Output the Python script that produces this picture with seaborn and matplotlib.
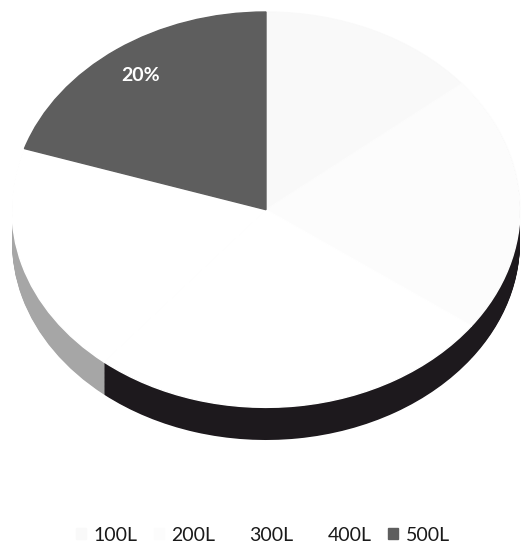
import matplotlib
matplotlib.use("Agg")
import matplotlib.pyplot as plt
import seaborn as sns
import pandas as pd

# ---- data ----
categories = ["100L", "200L", "300L", "400L", "500L"]
shares = [14, 21, 26, 19, 20]          # percent
top_colors = ["#f9f9f9", "#fcfcfc", "#ffffff", "#ffffff", "#5e5e5e"]
side_colors = ["#1d191d", "#1d191d", "#1d191d", "#a6a6a6", "#1d191d"]
shown_label = "500L"

df = pd.DataFrame({"category": categories, "share": shares})

sns.set_theme(style="white")
plt.rcParams["font.family"] = ["Lato", "DejaVu Sans"]

W, H = 526, 545
fig = plt.figure(figsize=(W / 100, H / 100), dpi=100)
fig.patch.set_facecolor("white")

# pie axes in pixel terms
left_px, right_px = 12, 520
top_px, bottom_px = 12, 440
ax = fig.add_axes([left_px / W, 1 - bottom_px / H,
                   (right_px - left_px) / W, (bottom_px - top_px) / H])

depth = 0.165       # thickness of the 3-D rim, in radius units
n_layers = 40

# extruded side (drawn from deepest layer upward)
for i in range(n_layers, 0, -1):
    off = -depth * i / n_layers
    ax.pie(df["share"], colors=side_colors, startangle=90, counterclock=False,
           center=(0, off), radius=1,
           wedgeprops=dict(linewidth=0, edgecolor="none", antialiased=True))

# top surface
wedges, texts, autotexts = ax.pie(
    df["share"], colors=top_colors, startangle=90, counterclock=False,
    center=(0, 0), radius=1, autopct="%1.0f%%", pctdistance=0.84,
    wedgeprops=dict(linewidth=1.0),
    textprops=dict(color="white", fontsize=14, fontweight="bold"))
for w in wedges:
    w.set_edgecolor(w.get_facecolor())

for cat, t in zip(df["category"], autotexts):
    t.set_visible(cat == shown_label)

ax.set_xlim(-1, 1)
ax.set_ylim(-1 - depth, 1)
ax.set_aspect("auto")
ax.axis("off")

leg = fig.legend(wedges, df["category"], loc="lower center",
                 bbox_to_anchor=(0.5, -0.03), ncol=5, frameon=False,
                 fontsize=14, handlelength=0.5, handleheight=0.5,
                 handletextpad=0.4, columnspacing=0.85)
for t in leg.get_texts():
    t.set_color("#1a1a1a")

fig.savefig("out.png", dpi=100, facecolor="white")
